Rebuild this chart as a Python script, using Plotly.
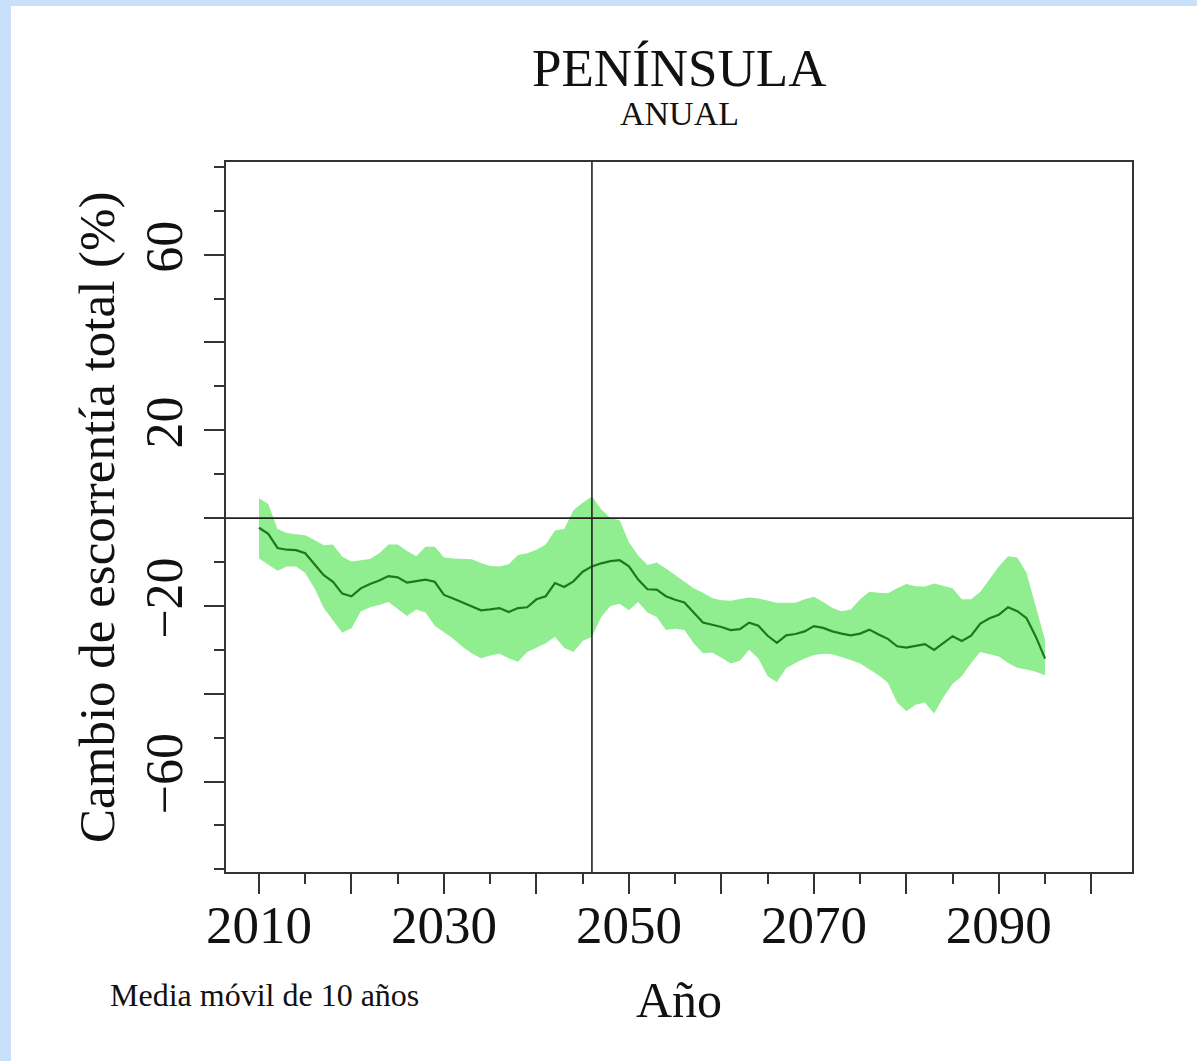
import plotly.graph_objects as go

years = list(range(2010, 2096))

mean_change = [
    -2.2, -3.6, -6.8, -7.2, -7.3, -8.0, -10.5, -13.0, -14.5, -17.2,
    -17.8, -16.0, -15.0, -14.2, -13.2, -13.5, -14.7, -14.4, -14.0, -14.5,
    -17.5, -18.3, -19.2, -20.0, -21.0, -20.8, -20.5, -21.4, -20.5, -20.3,
    -18.5, -17.8, -14.8, -15.7, -14.4, -12.2, -11.0, -10.3, -9.8, -9.6,
    -11.0, -14.0, -16.2, -16.3, -17.8, -18.6, -19.2, -21.5, -23.8, -24.3,
    -24.8, -25.5, -25.3, -23.8, -24.5, -26.8, -28.4, -26.7, -26.4, -25.8,
    -24.6, -25.0, -25.8, -26.3, -26.7, -26.3, -25.4, -26.5, -27.5, -29.2,
    -29.5, -29.1, -28.7, -30.0, -28.5, -26.9, -28.0, -26.8, -24.0, -22.8,
    -22.0, -20.3, -21.2, -22.8, -27.0, -32.0,
]

upper_change = [
    4.5, 3.2, -2.5, -3.4, -3.7, -3.9, -5.0, -6.2, -6.0, -8.8,
    -9.9, -9.6, -9.3, -8.0, -6.0, -6.0, -7.5, -8.7, -6.5, -6.5,
    -9.0, -9.2, -9.3, -9.4, -10.2, -10.9, -11.0, -10.5, -8.4, -8.0,
    -7.2, -6.0, -2.8, -2.5, 1.8, 3.5, 4.9, 2.0, 0.0, -0.5,
    -5.5, -8.5, -10.7, -10.1, -11.5, -13.0, -14.5, -16.0, -17.0, -18.2,
    -18.7, -18.8, -18.4, -18.1, -18.3, -18.8, -19.3, -19.3, -19.3, -18.5,
    -17.9, -19.1, -20.5, -21.2, -20.8, -18.5, -16.8, -17.0, -17.1, -16.0,
    -15.0, -15.5, -15.6, -14.9, -15.5, -16.0, -18.5, -18.5, -16.8, -14.0,
    -11.0, -8.7, -9.0, -12.5, -20.0, -27.8,
]

lower_change = [
    -9.2, -10.6, -12.0, -11.0, -11.0, -12.5, -16.0, -20.5, -23.2, -26.1,
    -25.1, -21.3, -20.3, -19.8, -19.1, -20.8, -22.3, -20.8, -21.5, -24.5,
    -26.0, -27.5, -29.3, -30.8, -31.9, -31.3, -30.9, -31.9, -32.7, -30.5,
    -29.5, -28.5, -27.0, -29.5, -30.5, -28.0, -27.0, -22.5, -20.0, -19.5,
    -21.0, -19.1, -21.5, -22.5, -25.5, -25.2, -25.5, -28.5, -30.8, -30.6,
    -31.8, -33.1, -32.5, -30.0, -32.0, -36.0, -37.3, -34.2, -33.0, -32.0,
    -31.2, -30.9, -31.0, -31.6, -32.3, -33.1, -34.5, -35.8, -37.5, -42.0,
    -44.0, -42.5, -42.0, -44.5, -40.8, -37.7, -36.0, -33.0, -30.5, -31.0,
    -31.5, -33.0, -34.1, -34.5, -35.0, -35.8,
]

x_tickvals = list(range(2010, 2101, 10))
x_ticktext = ["2010", "", "2030", "", "2050", "", "2070", "", "2090", ""]
y_tickvals = [-60, -40, -20, 0, 20, 40, 60]
y_ticktext = ["\u221260", "", "\u221220", "", "20", "", "60"]

ref_year = 2046
ref_value = 0

title_text = "PENÍNSULA"
subtitle_text = "ANUAL"
y_title = "Cambio de escorrentía total (%)"
x_title = "Año"
note_text = "Media móvil de 10 años"

SERIF = "Liberation Serif"
FRAME = "#333333"
PAGE_BLUE = "#c8e0fa"

fig = go.Figure()
fig.add_trace(go.Scatter(x=years, y=upper_change, mode="lines",
                         line=dict(width=0, color="#90ee90"),
                         showlegend=False, hoverinfo="skip"))
fig.add_trace(go.Scatter(x=years, y=lower_change, mode="lines",
                         line=dict(width=0, color="#90ee90"),
                         fill="tonexty", fillcolor="#90ee90",
                         showlegend=False, hoverinfo="skip"))
fig.add_trace(go.Scatter(x=years, y=mean_change, mode="lines",
                         line=dict(width=2.2, color="#1a7a1a"),
                         showlegend=False))

fig.add_shape(type="line", xref="x", yref="paper", x0=ref_year, x1=ref_year,
              y0=0, y1=1, line=dict(color="#222222", width=1.6), layer="above")
fig.add_shape(type="line", xref="paper", yref="y", x0=0, x1=1,
              y0=ref_value, y1=ref_value, line=dict(color="#222222", width=1.6), layer="above")

# white panel on light-blue page
fig.add_shape(type="rect", xref="paper", yref="paper",
              x0=-0.2373, x1=1.08, y0=-0.27, y1=1.2197,
              fillcolor="white", line=dict(width=0), layer="below")

fig.update_xaxes(range=[2006.43, 2104.4], tickvals=x_tickvals, ticktext=x_ticktext,
                 ticks="outside", ticklen=20, tickwidth=2, tickcolor=FRAME,
                 minor=dict(dtick=5, tick0=2010, ticks="outside", ticklen=10,
                            tickwidth=2, tickcolor=FRAME, showgrid=False),
                 showline=True, mirror=True, linecolor=FRAME, linewidth=2,
                 showgrid=False, zeroline=False, ticklabelstandoff=-15,
                 tickfont=dict(family=SERIF, size=53, color="#111111"))
fig.update_yaxes(range=[-80.6, 81.1], tickvals=y_tickvals, ticktext=y_ticktext,
                 ticks="outside", ticklen=20, tickwidth=2, tickcolor=FRAME,
                 minor=dict(dtick=10, tick0=0, ticks="outside", ticklen=10,
                            tickwidth=2, tickcolor=FRAME, showgrid=False),
                 showline=True, mirror=True, linecolor=FRAME, linewidth=2,
                 showgrid=False, zeroline=False, tickangle=-90,
                 ticklabelstandoff=1,
                 tickfont=dict(family=SERIF, size=52, color="#111111"))

annotations = [
    dict(text=title_text, x=0.5, y=1.133, xref="paper", yref="paper",
         xanchor="center", yanchor="middle", showarrow=False,
         font=dict(family=SERIF, size=53, color="#111111")),
    dict(text=subtitle_text, x=0.5, y=1.068, xref="paper", yref="paper",
         xanchor="center", yanchor="middle", showarrow=False,
         font=dict(family=SERIF, size=34, color="#111111")),
    dict(text=y_title, x=-0.1425, y=0.5, xref="paper", yref="paper",
         xanchor="center", yanchor="middle", textangle=-90, showarrow=False,
         font=dict(family=SERIF, size=51, color="#111111")),
    dict(text=x_title, x=0.5, y=-0.18, xref="paper", yref="paper",
         xanchor="center", yanchor="middle", showarrow=False,
         font=dict(family=SERIF, size=50, color="#111111")),
    dict(text=note_text, x=-0.1302, y=-0.173, xref="paper", yref="paper",
         xanchor="left", yanchor="middle", showarrow=False,
         font=dict(family=SERIF, size=32, color="#111111")),
]

fig.update_layout(
    width=1197, height=1061,
    margin=dict(l=226, r=65, t=162, b=189, pad=0),
    paper_bgcolor=PAGE_BLUE, plot_bgcolor="white",
    annotations=annotations, showlegend=False,
)

fig.write_html(
    "out.html",
    config={"displayModeBar": False},
    post_script="document.body.style.margin='0';"
                "document.body.style.background='" + PAGE_BLUE + "';",
)
